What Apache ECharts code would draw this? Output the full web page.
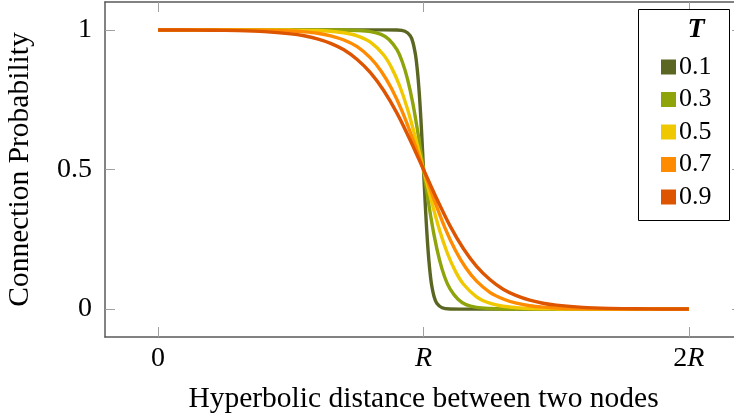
<!DOCTYPE html>
<html>
<head>
<meta charset="utf-8">
<script src="https://cdn.jsdelivr.net/npm/echarts@6/dist/echarts.min.js"></script>
<style>
  html, body { margin: 0; padding: 0; background: #fff; }
  #chart { width: 734px; height: 419px; }
</style>
</head>
<body>
<div id="chart"></div>
<script>
// Temperatures shown in the legend and their line colours
const temperatures = ['0.1', '0.3', '0.5', '0.7', '0.9'];
const lineColors = ['#5b6623', '#8fa30a', '#f0c800', '#ff8c00', '#dd5500'];

// Distance (in units of R) and connection probability for each temperature
const distT01 = [0, 0.85, 0.9, 0.93, 0.95, 0.96, 0.97, 0.975, 0.98, 0.985, 0.99, 0.995, 1.0,
  1.005, 1.01, 1.015, 1.02, 1.025, 1.03, 1.04, 1.05, 1.07, 1.1, 1.15, 2.0];
const probT01 = [1.000, 1.000, 0.9995, 0.995, 0.979, 0.956, 0.910, 0.872, 0.823, 0.760, 0.683, 0.595, 0.500,
  0.405, 0.317, 0.240, 0.177, 0.128, 0.090, 0.044, 0.021, 0.005, 0.0005, 0.000, 0.000];

const distT03 = [0, 0.6, 0.7, 0.75, 0.8, 0.84, 0.87, 0.9, 0.92, 0.94, 0.96, 0.98, 1.0,
  1.02, 1.04, 1.06, 1.08, 1.1, 1.13, 1.16, 1.2, 1.25, 1.3, 1.4, 2.0];
const probT03 = [1.000, 1.000, 0.9995, 0.998, 0.994, 0.984, 0.966, 0.929, 0.886, 0.823, 0.736, 0.625, 0.500,
  0.375, 0.264, 0.177, 0.114, 0.072, 0.035, 0.016, 0.006, 0.002, 0.0005, 0.000, 0.000];

const distT05 = [0, 0.3, 0.4, 0.5, 0.6, 0.65, 0.7, 0.75, 0.8, 0.85, 0.88, 0.91, 0.94, 0.97, 1.0,
  1.03, 1.06, 1.09, 1.12, 1.15, 1.2, 1.25, 1.3, 1.35, 1.4, 1.5, 1.6, 1.7, 2.0];
const probT05 = [1.000, 1.000, 0.9999, 0.9995, 0.998, 0.995, 0.990, 0.979, 0.956, 0.910, 0.864, 0.800, 0.716, 0.613, 0.500,
  0.387, 0.284, 0.200, 0.136, 0.090, 0.044, 0.021, 0.010, 0.005, 0.002, 0.0005, 0.0001, 0.000, 0.000];

const distT07 = [0, 0.2, 0.3, 0.4, 0.5, 0.55, 0.6, 0.65, 0.7, 0.75, 0.8, 0.84, 0.88, 0.92, 0.96, 1.0,
  1.04, 1.08, 1.12, 1.16, 1.2, 1.25, 1.3, 1.35, 1.4, 1.45, 1.5, 1.6, 1.7, 1.8, 2.0];
const probT07 = [1.000, 1.000, 0.9995, 0.999, 0.996, 0.993, 0.988, 0.979, 0.964, 0.940, 0.900, 0.853, 0.789, 0.707, 0.608, 0.500,
  0.392, 0.293, 0.211, 0.147, 0.100, 0.060, 0.036, 0.021, 0.012, 0.007, 0.004, 0.0014, 0.0005, 0.0002, 0.000];

const distT09 = [0, 0.1, 0.2, 0.3, 0.4, 0.5, 0.55, 0.6, 0.65, 0.7, 0.75, 0.8, 0.85, 0.9, 0.95, 1.0,
  1.05, 1.1, 1.15, 1.2, 1.25, 1.3, 1.35, 1.4, 1.45, 1.5, 1.6, 1.7, 1.8, 1.9, 2.0];
const probT09 = [0.9998, 0.9995, 0.999, 0.9975, 0.994, 0.986, 0.979, 0.968, 0.952, 0.929, 0.894, 0.847, 0.783, 0.702, 0.605, 0.500,
  0.395, 0.298, 0.217, 0.153, 0.106, 0.071, 0.048, 0.032, 0.021, 0.014, 0.006, 0.0025, 0.001, 0.0005, 0.0002];

// Tick positions and labels
const xTickValues = [0, 1, 2];
const xTickLabels = ['0', 'R', '2R'];
const yTickValues = [0, 0.5, 1];
const yTickLabels = ['0', '0.5', '1'];

const seriesDist = [distT01, distT03, distT05, distT07, distT09];
const seriesProb = [probT01, probT03, probT05, probT07, probT09];

const FONT = '"Liberation Serif", "DejaVu Serif", serif';
const FRAME = '#5a5a5a';
const TICK = '#a0a0a0';

function xLabel(v) {
  const i = xTickValues.indexOf(Math.round(v * 1000) / 1000);
  const s = i >= 0 ? xTickLabels[i] : '';
  return s.replace('R', '{i|R}');
}
function yLabel(v) {
  const i = yTickValues.indexOf(Math.round(v * 1000) / 1000);
  return i >= 0 ? yTickLabels[i] : '';
}

const chart = echarts.init(document.getElementById('chart'), null, { renderer: 'canvas' });

const series = temperatures.map((t, k) => ({
  name: t,
  type: 'line',
  xAxisIndex: 0,
  yAxisIndex: 0,
  data: seriesDist[k].map((d, j) => [d, seriesProb[k][j]]),
  showSymbol: false,
  symbol: 'none',
  smooth: 0.3,
  color: lineColors[k],
  lineStyle: { width: 3.4, color: lineColors[k], cap: 'butt', join: 'round' },
  itemStyle: { color: lineColors[k] },
  z: 2 + k,
  animation: false
}));

const baseX = {
  type: 'value', min: -0.2, max: 2.2,
  splitLine: { show: false },
  axisLine: { show: true, onZero: false, lineStyle: { color: FRAME, width: 1.5 } },
  axisTick: { show: true, inside: true, length: 10, customValues: xTickValues, lineStyle: { color: TICK, width: 1 } }
};
const baseY = {
  type: 'value', min: -0.1, max: 1.1,
  splitLine: { show: false },
  axisLine: { show: true, onZero: false, lineStyle: { color: FRAME, width: 1.5 } },
  axisTick: { show: true, inside: true, length: 10, customValues: yTickValues, lineStyle: { color: TICK, width: 1 } }
};

chart.setOption({
  animation: false,
  backgroundColor: '#fff',
  textStyle: { fontFamily: FONT },
  grid: { left: 105, top: 2, width: 637, height: 335, containLabel: false, outerBoundsMode: 'none' },
  xAxis: [
    Object.assign({}, baseX, {
      position: 'bottom',
      name: 'Hyperbolic distance between two nodes',
      nameLocation: 'middle',
      nameGap: 47,
      nameTextStyle: { fontFamily: FONT, fontSize: 29.5, color: '#000' },
      axisLabel: {
        show: true, customValues: xTickValues, formatter: xLabel, margin: 8,
        fontFamily: FONT, fontSize: 28, color: '#000',
        rich: { i: { fontFamily: FONT, fontSize: 28, fontStyle: 'italic', color: '#000' } }
      }
    }),
    Object.assign({}, baseX, { position: 'top', axisLabel: { show: false } })
  ],
  yAxis: [
    Object.assign({}, baseY, {
      position: 'left',
      name: 'Connection Probability',
      nameLocation: 'middle',
      nameGap: 70,
      nameRotate: 90,
      nameTextStyle: { fontFamily: FONT, fontSize: 29.5, color: '#000' },
      axisLabel: {
        show: true, customValues: yTickValues, formatter: yLabel, margin: 13,
        fontFamily: FONT, fontSize: 28, color: '#000'
      }
    }),
    Object.assign({}, baseY, { position: 'right', axisLabel: { show: false } })
  ],
  legend: {
    data: temperatures,
    orient: 'vertical',
    left: 661,
    top: 54,
    padding: 0,
    icon: 'rect',
    itemWidth: 15,
    itemHeight: 15,
    itemGap: 6.5,
    textStyle: { fontFamily: FONT, fontSize: 26, color: '#000', lineHeight: 26, padding: [0, 0, 0, -2] },
    selectedMode: false,
    z: 120
  },
  graphic: [
    {
      type: 'rect', z: 100,
      shape: { x: 638.5, y: 9.5, width: 91, height: 211 },
      style: { fill: 'rgba(255,255,255,0)', stroke: '#000', lineWidth: 1 }
    },
    {
      type: 'rect', z: 99, silent: true,
      shape: { x: 639, y: 10, width: 90, height: 210 },
      style: { fill: '#fff' }
    },
    {
      type: 'text', z: 101, x: 696, y: 30,
      style: {
        text: 'T', fontFamily: FONT, fontSize: 28, fontStyle: 'italic', fontWeight: 'bold',
        fill: '#000', align: 'center', verticalAlign: 'middle'
      }
    }
  ],
  series: series
});
</script>
</body>
</html>
